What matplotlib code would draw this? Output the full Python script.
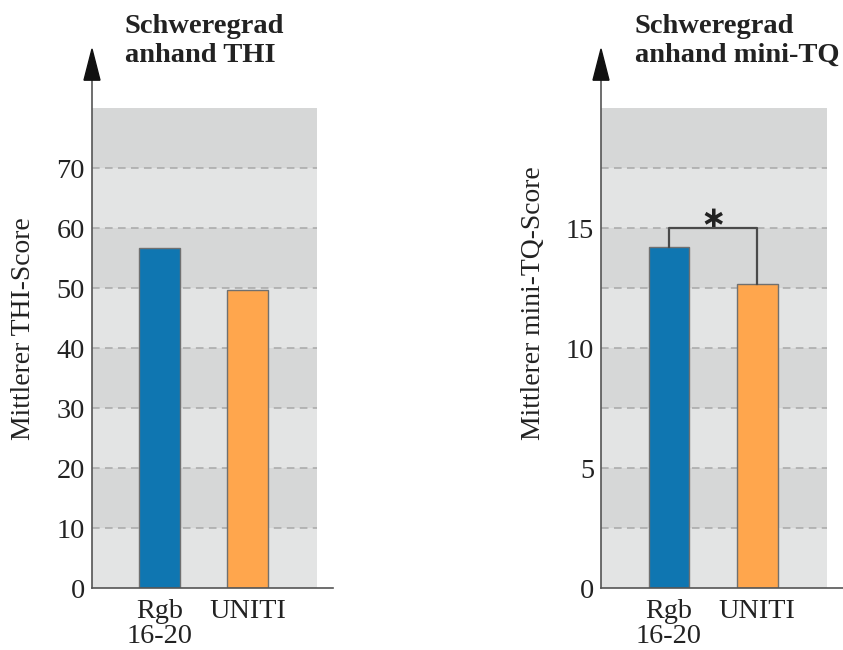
import matplotlib
matplotlib.use("Agg")
import matplotlib.pyplot as plt
from matplotlib.patches import Polygon

plt.rcParams['font.family'] = ['Liberation Serif', 'DejaVu Serif']

# data
groups = ['Rgb\n16-20', 'UNITI']
thi_means = [56.7, 49.6]
tq_means = [14.2, 12.65]
thi_ticks = [0, 10, 20, 30, 40, 50, 60, 70]
tq_ticks = [0, 5, 10, 15]

blue = '#0f76b1'
orange = '#ffa64d'
band_dark = '#d6d7d7'
band_light = '#e3e4e4'
axis_col = '#555555'

fig = plt.figure(figsize=(8.43, 6.5), dpi=100)


def panel(rect, vals, ymax, step, ticks, title, ylabel, title_x, ylabel_x):
    ax = fig.add_axes(rect)
    ax.set_facecolor(band_light)
    # alternating bands, dashed separators
    y = step
    k = 1
    while y < ymax:
        if k % 2 == 1:
            ax.axhspan(y, y + step, color=band_dark, lw=0, zorder=0)
        ax.axhline(y, color='#a8a8a8', lw=1.1, ls=(0, (5, 3.5)), zorder=1)
        y += step
        k += 1
    x = range(len(vals))
    ax.bar(x, vals, width=0.46, color=[blue, orange], edgecolor='#707070',
           lw=1.0, zorder=3)
    ax.set_xlim(-0.77, 1.79)
    ax.set_ylim(0, ymax)
    ax.set_yticks(ticks)
    ax.set_xticks(list(x))
    ax.set_xticklabels(groups)
    ax.tick_params(length=0, labelsize=20.3, colors='#222222', pad=5)
    ax.tick_params(axis='x', pad=8)
    for lab in ax.get_xticklabels():
        lab.set_linespacing(1.02)
    for s in ax.spines.values():
        s.set_visible(False)
    # axes lines with arrow
    ax.plot([0, 0], [0, 1.07], transform=ax.transAxes, color=axis_col,
            lw=1.2, clip_on=False, zorder=5)
    ax.plot([0, 1.07], [0, 0], transform=ax.transAxes, color=axis_col,
            lw=1.2, clip_on=False, zorder=5)
    hw = 8 / (rect[2] * 843)
    ax.add_patch(Polygon([[-hw, 1.058], [hw, 1.058], [0, 1.123]],
                         closed=True, transform=ax.transAxes, color='#111111',
                         clip_on=False, zorder=6))
    fig.text(title_x, 1 - 14 / 650, title, ha='left', va='top', fontsize=20.5,
             fontweight='bold', color='#222222', linespacing=1.2)
    fig.text(ylabel_x, 1 - 440 / 650, ylabel, rotation=90, ha='center',
             va='bottom', fontsize=19.9, color='#222222')
    return ax


panel([92 / 843, 62 / 650, 225 / 843, 480 / 650], thi_means, 80, 10,
      thi_ticks, 'Schweregrad\nanhand THI', 'Mittlerer THI-Score',
      125 / 843, 24 / 843)
ax2 = panel([601 / 843, 62 / 650, 226 / 843, 480 / 650], tq_means, 20, 2.5,
            tq_ticks, 'Schweregrad\nanhand mini-TQ', 'Mittlerer mini-TQ-Score',
            635 / 843, 533 / 843)

# significance bracket
bracket_y = 15
ax2.plot([0, 0, 1, 1], [tq_means[0], bracket_y, bracket_y, tq_means[1]],
         color='#4a4a4a', lw=1.6, zorder=4)
ax2.text(0.5, bracket_y + 0.5, '\u2217', ha='center', va='center_baseline',
         fontsize=22, fontweight='bold', family='DejaVu Sans', color='#222222')

fig.savefig('out.png', dpi=100)
